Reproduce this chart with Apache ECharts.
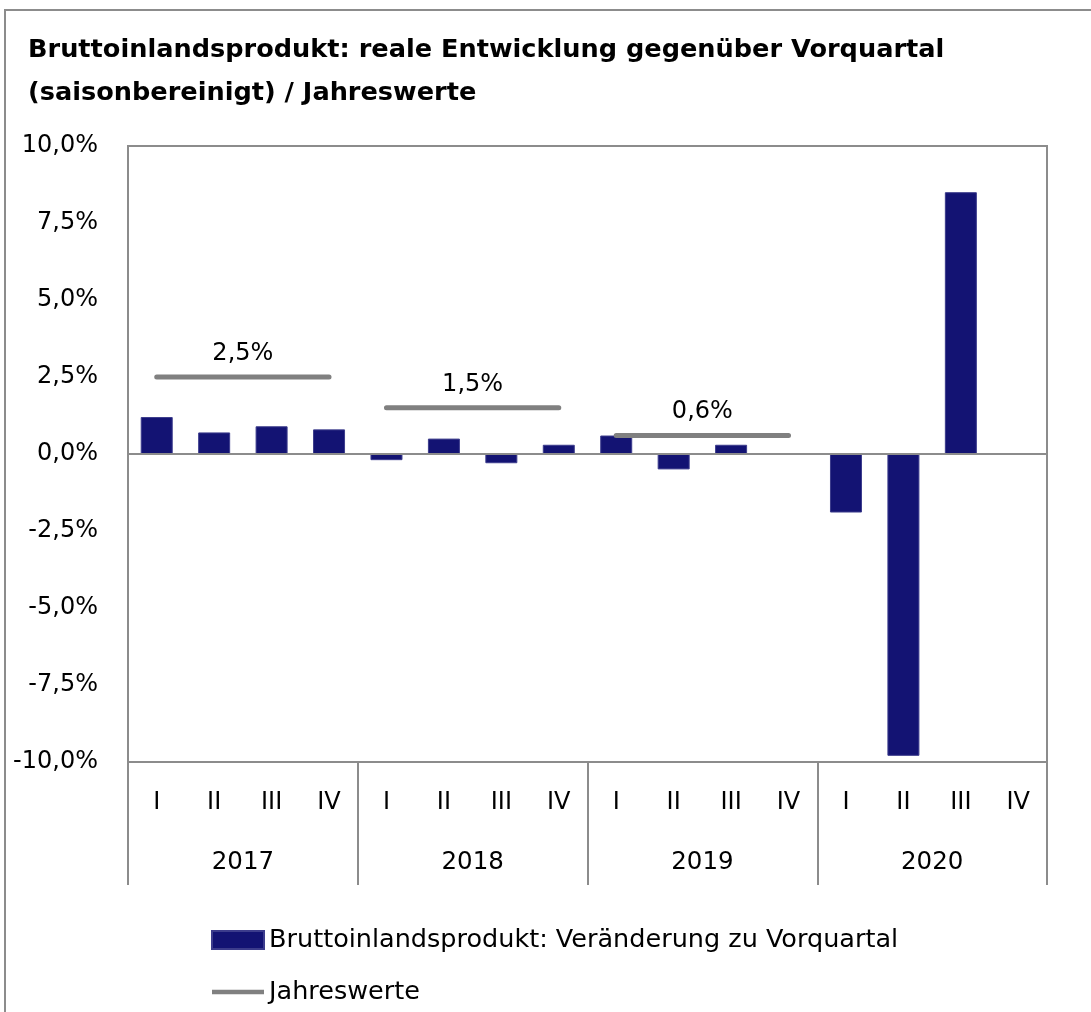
<!DOCTYPE html>
<html>
<head>
<meta charset="utf-8">
<script src="https://cdn.jsdelivr.net/npm/echarts@6/dist/echarts.min.js"></script>
<style>
  html, body { margin: 0; padding: 0; background: #fff; }
  #chart { width: 1091px; height: 1012px; }
</style>
</head>
<body>
<div id="chart"></div>
<script>
// quarters and years of the two-level category axis
var quarters = ['I', 'II', 'III', 'IV']
var years = ['2017', '2018', '2019', '2020']
// real GDP change vs. previous quarter, in %
var gdpChange = [1.2, 0.7, 0.9, 0.8, -0.2, 0.5, -0.3, 0.3, 0.6, -0.5, 0.3, 0.0, -1.9, -9.8, 8.5, null]
// annual values (first three years)
var annualValues = [2.5, 1.5, 0.6]
var yTicks = { min: -10, max: 10, interval: 2.5 }

var categories = []
years.forEach(function (y) {
  quarters.forEach(function (q) { categories.push(q) })
})

function pct(v) {
  return v.toFixed(1).replace('.', ',') + '%'
}

var fontFam = '"DejaVu Sans", sans-serif'

var lineSeries = annualValues.map(function (val, yi) {
  var data = categories.map(function () { return null })
  for (var k = 0; k < 4; k++) {
    var idx = yi * 4 + k
    if (k === 1) {
      // label sits between II and III
      data[idx] = {
        value: val,
        label: {
          show: true,
          position: 'top',
          distance: 11,
          offset: [28.7, 0],
          formatter: pct(val),
          color: '#000',
          fontSize: 24,
          fontFamily: fontFam
        }
      }
    } else {
      data[idx] = val
    }
  }
  return {
    name: 'Jahreswerte',
    type: 'line',
    data: data,
    symbol: 'circle',
    symbolSize: 1,
    showSymbol: true,
    connectNulls: false,
    lineStyle: { color: '#808080', width: 5, cap: 'round' },
    itemStyle: { color: '#808080' },
    z: 3
  }
})

var chart = echarts.init(document.getElementById('chart'))
chart.setOption({
  animation: false,
  textStyle: { fontFamily: fontFam },
  graphic: [{
    type: 'rect',
    shape: { x: 5, y: 10, width: 1200, height: 1100 },
    style: { fill: 'none', stroke: '#8c8c8c', lineWidth: 2 },
    silent: true
  }],
  title: {
    text: 'Bruttoinlandsprodukt: reale Entwicklung gegenüber Vorquartal\n(saisonbereinigt) / Jahreswerte',
    left: 23,
    top: 24,
    textStyle: {
      fontFamily: fontFam,
      fontSize: 25.6,
      fontWeight: 'bold',
      color: '#000',
      lineHeight: 43
    }
  },
  legend: {
    orient: 'vertical',
    left: 206,
    top: 922,
    itemWidth: 52,
    itemHeight: 18,
    itemGap: 26,
    data: [
      { name: 'Bruttoinlandsprodukt: Veränderung zu Vorquartal', icon: 'rect' },
      { name: 'Jahreswerte', icon: 'path://M0,0 L56,0 L56,5 L0,5 Z' }
    ],
    textStyle: { fontSize: 25.5, color: '#000', fontFamily: fontFam }
  },
  grid: {
    left: 128,
    right: 44,
    top: 146,
    bottom: 250,
    show: true,
    borderColor: '#8c8c8c',
    borderWidth: 2
  },
  xAxis: [
    {
      type: 'category',
      data: categories,
      position: 'bottom',
      axisLine: { onZero: false, lineStyle: { color: '#8c8c8c', width: 2 } },
      axisTick: { show: false },
      axisLabel: { color: '#000', fontSize: 24, margin: 29, interval: 0 }
    },
    {
      type: 'category',
      data: years,
      position: 'bottom',
      offset: 0,
      axisLine: { show: false, onZero: false },
      axisTick: { show: true, length: 123, interval: 0, lineStyle: { color: '#8c8c8c', width: 2 } },
      axisLabel: { color: '#000', fontSize: 24.5, margin: 88, interval: 0 }
    }
  ],
  yAxis: {
    type: 'value',
    min: yTicks.min,
    max: yTicks.max,
    interval: yTicks.interval,
    axisLine: { show: false },
    axisTick: { show: false },
    splitLine: { show: false },
    axisLabel: {
      color: '#000',
      fontSize: 24,
      margin: 30,
      formatter: pct
    }
  },
  series: [
    {
      name: 'Bruttoinlandsprodukt: Veränderung zu Vorquartal',
      type: 'bar',
      data: gdpChange,
      barWidth: 32,
      itemStyle: { color: '#131373', borderColor: '#3c3c8c', borderWidth: 1 },
      markLine: {
        silent: true,
        symbol: 'none',
        label: { show: false },
        lineStyle: { color: '#8c8c8c', width: 2, type: 'solid' },
        data: [{ yAxis: 0 }]
      },
      z: 2
    }
  ].concat(lineSeries)
})
</script>
</body>
</html>
